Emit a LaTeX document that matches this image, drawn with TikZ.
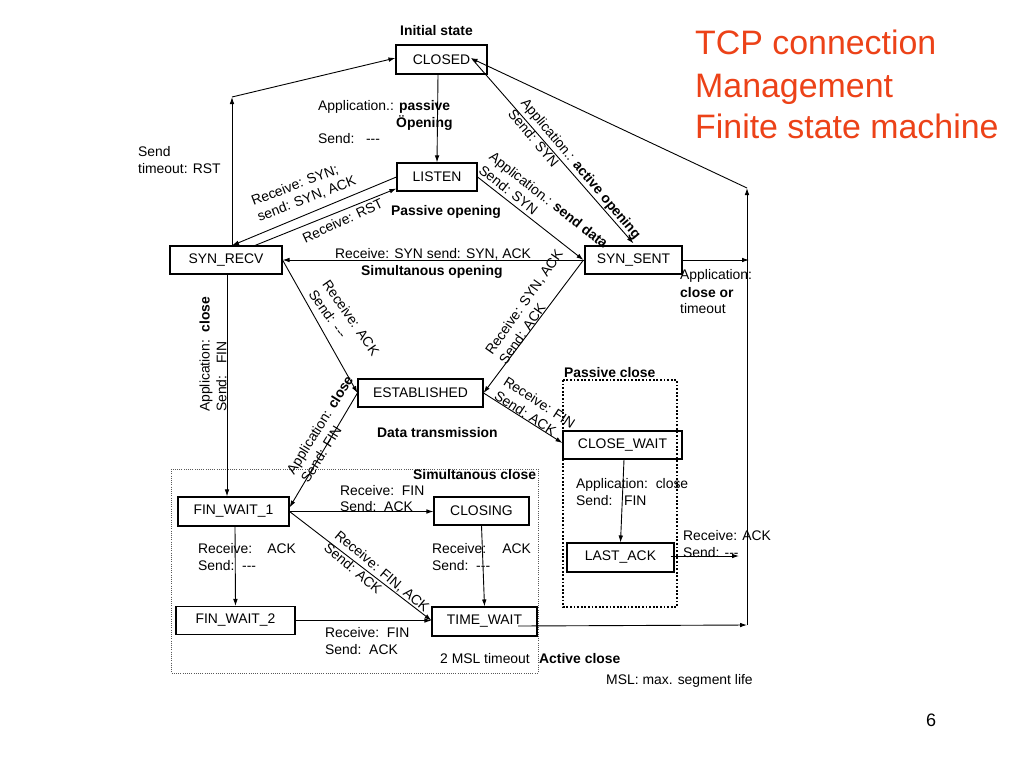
\documentclass[tikz,border=0pt]{standalone}
\usepackage{fontspec}
\setmainfont{Liberation Sans}
\usetikzlibrary{arrows.meta,calc}
\definecolor{titlered}{RGB}{236,66,24}
\newcommand{\mylabelfont}{\fontsize{13.9}{16.8}\selectfont}
\newcommand{\dashes}{-{}-{}-}
\begin{document}
\begin{tikzpicture}[x=1pt,y=-1pt,
  state/.style={draw, line width=1.1pt, inner sep=0pt, font=\mylabelfont},
  lbl/.style={inner sep=0pt, font=\mylabelfont, align=left},
  bl/.style={lbl, anchor=base west},
  bbl/.style={lbl, anchor=base west, font=\mylabelfont\bfseries},
  rl/.style={lbl, anchor=west},
  conn/.style={line width=0.9pt, -{Latex[length=7pt,width=4.6pt]}},
  title/.style={inner sep=0pt, anchor=base west, text=titlered, font=\fontsize{33.9}{40}\selectfont},
]
\useasboundingbox (0,0) rectangle (1024,768);

% dotted group boxes
\draw[line width=0.7pt, gray!70!black, dash pattern=on 0.8pt off 1.4pt] (171,469) rectangle (538,673);
\draw[line width=1.8pt, dash pattern=on 1.8pt off 1.8pt] (563,380) rectangle (677,607);

% states
\node[state, minimum width=91pt, minimum height=29pt] (closed) at (441.5,59.5) {CLOSED};
\node[state, minimum width=80pt, minimum height=28pt] (listen) at (437,177) {LISTEN};
\node[state, minimum width=112pt, minimum height=28pt] (synrecv) at (226,260) {SYN\_RECV};
\node[state, minimum width=97pt, minimum height=28pt] (synsent) at (633.5,260) {SYN\_SENT};
\node[state, minimum width=125pt, minimum height=28pt] (est) at (420.5,393) {ESTABLISHED};
\node[state, minimum width=119pt, minimum height=28pt] (closewait) at (622.5,445) {CLOSE\_WAIT};
\node[state, minimum width=111pt, minimum height=29pt] (fw1) at (233.5,511.5) {FIN\_WAIT\_1};
\node[state, minimum width=95pt, minimum height=28pt] (closing) at (481.5,511) {CLOSING};
\node[state, minimum width=107pt, minimum height=29pt] (lastack) at (620.5,557.5) {LAST\_ACK};
\node[state, minimum width=119pt, minimum height=28pt] (fw2) at (235.5,620.5) {FIN\_WAIT\_2};
\node[state, minimum width=105pt, minimum height=29pt] (timewait) at (484.5,621.5) {TIME\_WAIT};

% helper coordinates
\coordinate (lt) at (232,97);
\coordinate (rt) at (747,188);
\coordinate (rb) at (747,625);
\coordinate (rs) at (749,260);
\coordinate (la) at (739,556);

% connectors
\draw[conn] ([xshift=-3.5pt]closed.south) -- (listen.north);
\draw[conn] ([xshift=6pt]synrecv.north) -- (lt);
\draw[conn] (lt) -- ([yshift=1.5pt]closed.west);
\draw[conn] (listen.west) -- ([xshift=6pt]synrecv.north);
\draw[conn] ([xshift=29pt]synrecv.north) -- ([yshift=3pt]listen.south west);
\draw[conn] (listen.east) -- ([xshift=-1pt]synsent.west);
\draw[conn] ([xshift=-15pt]closed.east) -- ([yshift=2pt]synsent.north);
\draw[conn] (rt) -- ([xshift=-17pt,yshift=1.5pt]closed.east);
\draw[conn] (synsent.east) -- (rs);
\draw[conn] (rb) -- (rt);
\draw[conn] ([xshift=33.5pt,yshift=-4.5pt]timewait.center) -- (rb);
\draw[conn] (synsent.west) -- (synrecv.east);
\draw[conn] (synrecv.east) -- (est.west);
\draw[conn] ([xshift=-1pt]synsent.west) -- (est.east);
\draw[conn] (est.east) -- ([yshift=2pt]closewait.west);
\draw[conn] (est.west) -- ([yshift=4pt]fw1.east);
\draw[conn] ([xshift=1pt]synrecv.south) -- ([xshift=1pt]synrecv.south |- fw1.north);
\draw[conn] (fw1.east) -- (fw1.east -| closing.west);
\draw[conn] (fw1.east) -- ([yshift=1pt]timewait.west);
\draw[conn] ([xshift=1.5pt]fw1.south) -- (fw2.north);
\draw[conn] (closing.south) -- (timewait.north);
\draw[conn] (fw2.east) -- (fw2.east -| timewait.west);
\draw[conn] ([xshift=1.5pt]closewait.south) -- (lastack.north);
\draw[conn] ([xshift=-4pt,yshift=1.5pt]lastack.east) -- (la);

% rotated labels
\node[rl, rotate=21] (l1) at (255,210) {Receive: SYN;\\send: SYN, ACK};
\node[rl, rotate=25] (l2) at (303,239) {Receive: RST};
\node[rl, rotate=-50] (l3) at (517.5,105.5) {Application.: \textbf{active opening}\\Send: SYN};
\node[rl, rotate=-38] (l4) at (486,161.5) {Application.: \textbf{send data}\\Send: SYN};
\node[rl, rotate=-55] (l5) at (319,286.5) {Receive: ACK\\Send: \dashes};
\node[rl, rotate=55] (l6) at (495,358) {Receive: SYN, ACK\\Send: ACK};
\node[rl, rotate=-33] (l7) at (500.5,387) {Receive: FIN\\Send: ACK};
\node[rl, rotate=58] (l8) at (297,477) {Application: \textbf{close}\\Send: FIN};
\node[rl, rotate=90] (l9) at (213,412) {Application:\ \ \textbf{close}\\Send:\ \ \ FIN};
\node[rl, rotate=-40] (l10) at (331.5,539.5) {Receive: FIN, ACK\\Send: ACK};

% straight labels
\node[bbl] (initial) at (400,36) {Initial state};
\node[bl] (passA) at (318,110) {Application.: \textbf{passive}};
\node[bbl] (passB) at (396,127) {Öpening};
\node[bl] (passC) at (318,143) {Send:\ \ \ \dashes};
\node[bl] (toA) at (138,156) {Send};
\node[bl] (toB) at (138,173) {timeout: RST};
\node[bbl] (popen) at (391,215) {Passive opening};
\node[bl] (simA) at (335,258) {Receive: SYN send: SYN, ACK};
\node[bbl] (simB) at (361,275) {Simultanous opening};
\node[bl] (acA) at (680,279) {Application:};
\node[bbl] (acB) at (680,297) {close or};
\node[bl] (acC) at (680,313) {timeout};
\node[bbl] (pclose) at (564,377) {Passive close};
\node[bbl] (data) at (377,437) {Data transmission};
\node[bbl] (sclose) at (413,479) {Simultanous close};
\node[bl] (f1A) at (340,495) {Receive:\ \ FIN};
\node[bl] (f1B) at (340,511) {Send:\ \ ACK};
\node[bl] (w1A) at (198,553) {Receive:\hspace{15pt}ACK};
\node[bl] (w1B) at (198,570) {Send:\ \ \dashes};
\node[bl] (c1A) at (432,553) {Receive:\hspace{16pt}ACK};
\node[bl] (c1B) at (432,570) {Send:\ \ \dashes};
\node[bl] (cwA) at (576,488) {Application:\ \ close};
\node[bl] (cwB) at (576,505) {Send:\ \ \ FIN};
\node[bl] (laA) at (683,540) {Receive: ACK};
\node[bl] (laB) at (683,557) {Send: \dashes};
\node[bl] (f2A) at (325,637) {Receive:\ \ FIN};
\node[bl] (f2B) at (325,654) {Send:\ \ ACK};
\node[bl] (msl2) at (440,663) {2 MSL timeout};
\node[bbl] (aclose) at (539,663) {Active close};
\node[bl] (msl) at (606,684) {MSL: max. segment life};

% title
\node[title] (t1) at (695,55) {TCP connection};
\node[title] (t2) at (695,97) {Management};
\node[title] (t3) at (695,138) {Finite state machine};
\node[inner sep=0pt, anchor=base, font=\fontsize{18}{20}\selectfont] (page) at (931,726) {6};
\end{tikzpicture}
\end{document}
